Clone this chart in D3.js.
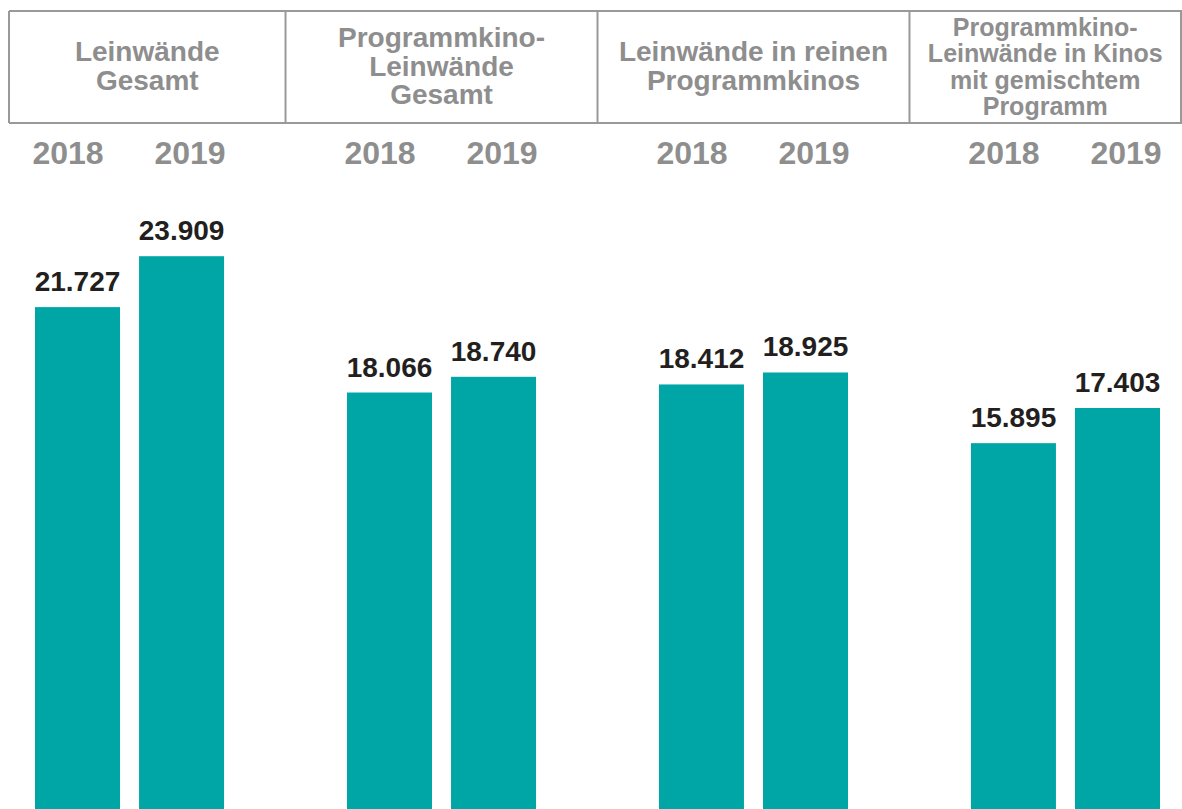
<!DOCTYPE html>
<html>
<head>
<meta charset="utf-8">
<script src="https://cdn.jsdelivr.net/npm/d3@7"></script>
<style>
  html, body { margin: 0; padding: 0; background: #fff; }
  svg { display: block; font-family: "Liberation Sans", Arial, sans-serif; }
</style>
</head>
<body>
<svg id="chart"></svg>
<script>
// data
var groups = ["Leinwände Gesamt", "Programmkino-Leinwände Gesamt", "Leinwände in reinen Programmkinos", "Programmkino-Leinwände in Kinos mit gemischtem Programm"];
var headerLines = [
  ["Leinwände", "Gesamt"],
  ["Programmkino-", "Leinwände", "Gesamt"],
  ["Leinwände in reinen", "Programmkinos"],
  ["Programmkino-", "Leinwände in Kinos", "mit gemischtem", "Programm"]
];
var years = ["2018", "2019"];
var values2018 = [21727, 18066, 18412, 15895];
var values2019 = [23909, 18740, 18925, 17403];

var width = 1182, height = 809;
var teal = "#00a6a6";
var gray = "#8e8e8e";
var lineGray = "#999999";

var data = groups.map(function (g, i) {
  return { group: g, lines: headerLines[i], values: [
    { year: years[0], value: values2018[i] },
    { year: years[1], value: values2019[i] }
  ] };
});

var de = d3.formatLocale({ decimal: ",", thousands: ".", grouping: [3], currency: ["", " €"] });
var fmt = de.format(",d");

var svg = d3.select("#chart").attr("width", width).attr("height", height);

var x0 = d3.scaleBand()
  .domain(groups)
  .range([35, 1160])
  .paddingInner(0.394)
  .paddingOuter(0);

var x1 = d3.scaleBand()
  .domain(years)
  .range([0, x0.bandwidth()])
  .paddingInner(0.183);

var y = d3.scaleLinear()
  .domain([0, 25000])
  .range([814, 814 - 25 * 23.33]);

// header boxes
var boxTop = 11, boxBottom = 123;
var edges = [x0.range()[0] - 26];
groups.forEach(function (g, i) {
  if (i < groups.length - 1) {
    var end = x0(g) + x0.bandwidth();
    edges.push((end + x0(groups[i + 1])) / 2);
  }
});
edges.push(width - 1);

var header = svg.append("g");
header.append("line")
  .attr("x1", edges[0]).attr("x2", width)
  .attr("y1", boxTop).attr("y2", boxTop)
  .attr("stroke", lineGray).attr("stroke-width", 2);
header.append("line")
  .attr("x1", edges[0]).attr("x2", width)
  .attr("y1", boxBottom).attr("y2", boxBottom)
  .attr("stroke", lineGray).attr("stroke-width", 2);
header.selectAll("line.sep")
  .data(edges)
  .join("line")
  .attr("class", "sep")
  .attr("x1", function (d) { return d; }).attr("x2", function (d) { return d; })
  .attr("y1", boxTop).attr("y2", boxBottom)
  .attr("stroke", lineGray).attr("stroke-width", 2);

data.forEach(function (d, i) {
  var cx = (edges[i] + edges[i + 1]) / 2;
  var fs = d.lines.length > 3 ? 25 : 28;
  var lh = d.lines.length > 3 ? 26.5 : 28.3;
  var first = 75.5 - (d.lines.length - 1) * lh / 2;
  header.append("text")
    .attr("text-anchor", "middle")
    .attr("font-size", fs + "px")
    .attr("font-weight", "bold")
    .attr("fill", gray)
    .selectAll("tspan")
    .data(d.lines)
    .join("tspan")
    .attr("x", cx)
    .attr("y", function (l, j) { return first + j * lh; })
    .text(function (l) { return l; });
});

// groups of bars
var g = svg.append("g")
  .selectAll("g")
  .data(data)
  .join("g")
  .attr("transform", function (d) { return "translate(" + x0(d.group) + ",0)"; });

// year labels
g.selectAll("text.year")
  .data(function (d) { return d.values; })
  .join("text")
  .attr("class", "year")
  .attr("x", function (d, i) { return x1(d.year) + x1.bandwidth() / 2 + (i == 0 ? -9.5 : 8.5); })
  .attr("y", 164)
  .attr("text-anchor", "middle")
  .attr("font-size", "32px")
  .attr("font-weight", "bold")
  .attr("fill", gray)
  .text(function (d) { return d.year; });

g.selectAll("rect")
  .data(function (d) { return d.values; })
  .join("rect")
  .attr("x", function (d) { return x1(d.year); })
  .attr("y", function (d) { return y(d.value); })
  .attr("width", x1.bandwidth())
  .attr("height", function (d) { return y(0) - y(d.value); })
  .attr("fill", teal);

g.selectAll("text.val")
  .data(function (d) { return d.values; })
  .join("text")
  .attr("class", "val")
  .attr("x", function (d) { return x1(d.year) + x1.bandwidth() / 2; })
  .attr("y", function (d) { return y(d.value) - 16; })
  .attr("text-anchor", "middle")
  .attr("font-size", "28px")
  .attr("font-weight", "bold")
  .attr("fill", "#231f20")
  .text(function (d) { return fmt(d.value); });
</script>
</body>
</html>
